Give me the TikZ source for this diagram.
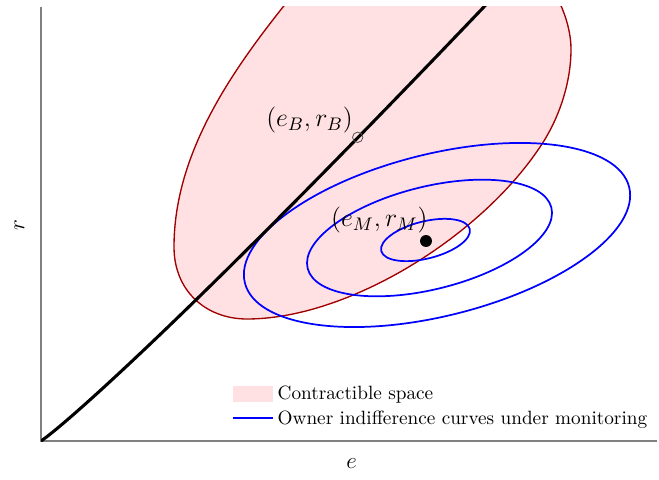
\RequirePackage{fix-cm}
\documentclass[tikz,border=0pt]{standalone}
\usepackage{amsmath}
\usepackage{tikz}
\usetikzlibrary{positioning}
\definecolor{cdark}{HTML}{A00000}
\definecolor{cfill}{HTML}{FFE1E3}
\definecolor{cblue}{HTML}{0000FF}
\definecolor{caxis}{HTML}{808080}

\begin{document}
\begin{tikzpicture}[
  x=0.52pt, y=0.52pt,
  axs/.style={draw=caxis,line width=0.6pt},
  bnd/.style={draw=black,line width=1.6pt},
  cset/.style={draw=cdark,line width=0.7pt,fill=cfill},
  icurve/.style={draw=cblue,line width=0.9pt},
  mdot/.style={circle,fill=black,minimum size=6.2pt,inner sep=0pt},
  bdot/.style={circle,draw=black!70,line width=0.4pt,minimum size=5.4pt,inner sep=0pt},
  lbl/.style={font=\fontsize{13.5}{16}\selectfont,inner sep=0pt},
  axlbl/.style={font=\large},
  lgd/.style={anchor=base west,inner sep=0pt}]

\useasboundingbox (-41,-38) rectangle (618,441);

% ---------------- axes ----------------
\coordinate (O) at (0,0);
\coordinate (xend) at (616,0);
\coordinate (yend) at (0,434);
\draw[axs] (xend) -- (O) -- (yend);
\node[axlbl] (xlab) at (310.7,-23) {$e$};
\node[axlbl,rotate=90] (ylab) at (-21.5,216) {$r$};

% ---------------- contractible space ----------------
\begin{scope}
  \clip (O) rectangle (616,434);
  \draw[cset] (133,194) .. controls (133,150) and (165,122) .. (206,122)
    .. controls (306,122) and (438,202.5) .. (499,294)
    .. controls (518,322) and (530,358) .. (530,392)
    .. controls (530,442) and (480,520) .. (400,520)
    .. controls (340,520) and (266.8,465.2) .. (242,434)
    .. controls (186.2,363.8) and (133,284) .. (133,194) -- cycle;
\end{scope}

% ---------------- indifference curves ----------------
\coordinate (c1) at (384.5,201);
\coordinate (c2) at (388.5,203);
\coordinate (c3) at (396,206);
\draw[icurve,rotate around={14:(c1)}] (c1) ellipse (45.6 and 18.6);
\draw[icurve,rotate around={14:(c2)}] (c2) ellipse (125.6 and 51.3);
\draw[icurve,rotate around={14:(c3)}] (c3) ellipse (198 and 81);

% ---------------- boundary ----------------
\begin{scope}
  \clip (O) rectangle (616,434);
  \draw[bnd] (O) -- plot[domain=0.5:446,samples=80] (\x,{0.6398*pow(\x,1.07)});
\end{scope}

% ---------------- points ----------------
\node[bdot] (B) at (316.7,303.7) {};
\node[mdot] (M) at (385,200) {};
\node[lbl,above left=2pt and 2.4pt of B.center] (Blab) {$(e_B,r_B)$};
\node[lbl,above left=4pt and -1pt of M.center] (Mlab) {$(e_M,r_M)$};

% ---------------- legend ----------------
\coordinate (lgA) at (191.7,39);
\coordinate (lgB) at (231.7,55);
\coordinate (lgC) at (191.7,23.3);
\coordinate (lgD) at (231.7,23.3);
\fill[cfill] (lgA) rectangle (lgB);
\draw[icurve] (lgC) -- (lgD);
\node[lgd] (lg1) at (236.3,41) {Contractible space};
\node[lgd] (lg2) at (236.3,16.7) {Owner indifference curves under monitoring};
\end{tikzpicture}
\end{document}
